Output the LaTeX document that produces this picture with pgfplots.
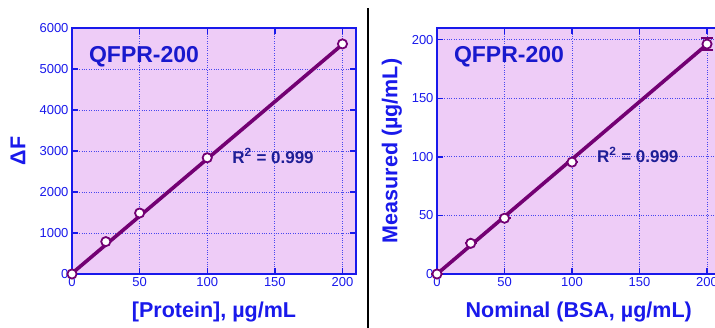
\documentclass[border=0pt]{standalone}
\usepackage{pgfplots}
\pgfplotsset{compat=1.18}
\usepackage{fontspec}
\setmainfont{Liberation Sans}
\definecolor{bg}{RGB}{238,204,247}
\definecolor{axblue}{RGB}{25,25,235}
\definecolor{tblue}{RGB}{25,25,205}
\definecolor{rblue}{RGB}{30,30,150}
\definecolor{purp}{RGB}{115,0,115}
\pgfplotsset{myaxis/.style={
  scale only axis, height=246pt, anchor=south west,
  axis background/.style={fill=bg},
  axis line style={axblue, line width=1.3pt},
  tick style={axblue, line width=1.3pt},
  major tick length=6pt,
  tick align=inside,
  grid=major, major grid style={axblue!80, dotted, line width=0.9pt},
  tick label style={font=\fontsize{13}{15}\selectfont, text=axblue},
  /pgf/number format/assume math mode=true,
  /pgf/number format/set thousands separator={},
  xlabel style={at={(axis description cs:0.5,-0.155)}, anchor=center, font=\bfseries\fontsize{21.5}{24}\selectfont, text=axblue},
  xmin=0, xmax=210, ymin=0,
  xtick={0,50,...,200},
  clip=false,
}}
\begin{document}
\begin{tikzpicture}
\useasboundingbox (0pt,0pt) rectangle (715pt,328pt);
\clip (0pt,0pt) rectangle (715pt,328pt);
\begin{axis}[myaxis, at={(72pt,54pt)}, width=284pt, ymax=6000,
  ytick={0,1000,...,6000},
  ylabel style={at={(axis description cs:-0.19,0.5)}, rotate=0, anchor=center, font=\bfseries\fontsize{21.5}{24}\selectfont, text=axblue},
  xlabel={[Protein], µg/mL}, ylabel={ΔF}]
\addplot[purp, line width=3.6pt] coordinates {(0,15) (200,5600)};
\addplot[only marks, mark=*, mark size=4.6pt, mark options={fill=white, draw=purp, line width=1.8pt}]
  coordinates {(0,0) (25,790) (50,1487) (100,2835) (200,5612)};
\node[anchor=west, font=\bfseries\fontsize{23}{26}\selectfont, text=tblue] at (axis cs:10,5293) {QFPR-200};
\node[anchor=west, font=\bfseries\fontsize{17}{19}\selectfont, text=rblue] at (axis cs:116,2878) {R\textsuperscript{2} = 0.999};
\end{axis}
\begin{axis}[myaxis, at={(437pt,54pt)}, width=283.5pt, ymax=210,
  ytick={0,50,...,200},
  ylabel style={at={(axis description cs:-0.159,0.5)}, rotate=0, anchor=center, font=\bfseries\fontsize{21.5}{24}\selectfont, text=axblue},
  xlabel={Nominal (BSA, µg/mL)}, ylabel={Measured (µg/mL)}]
\addplot[purp, line width=3.6pt] coordinates {(0,0) (200,196)};
\addplot[only marks, mark=*, mark size=4.6pt, mark options={fill=white, draw=purp, line width=1.8pt},
  error bars/.cd, y dir=both, y explicit,
  error bar style={purp, line width=2pt},
  error mark options={rotate=90, mark size=6pt, purp, line width=2pt}]
  coordinates {(0,0) +- (0,0) (25,26.2) +- (0,0) (50,47.6) +- (0,0) (100,95.5) +- (0,0) (200,196.3) +- (0,5)};
\node[anchor=west, font=\bfseries\fontsize{23}{26}\selectfont, text=tblue] at (axis cs:10,185.5) {QFPR-200};
\node[anchor=west, font=\bfseries\fontsize{17}{19}\selectfont, text=rblue] at (axis cs:116,101.6) {R\textsuperscript{2} = 0.999};
\end{axis}
\draw[black, line width=2.5pt] (368pt,0pt) -- (368pt,320pt);
\end{tikzpicture}
\end{document}
